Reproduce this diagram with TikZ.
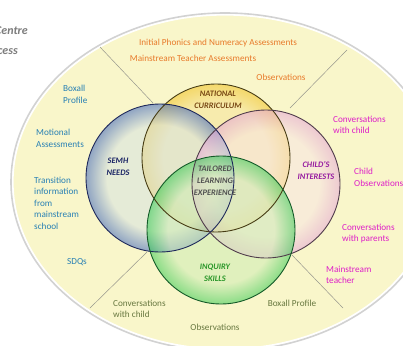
\documentclass[tikz,border=0pt]{standalone}
\usepackage{fontspec}
\setmainfont{Carlito}
\definecolor{bgfill}{RGB}{249,246,202}
\definecolor{divline}{RGB}{150,150,140}
\definecolor{txtorange}{RGB}{232,122,42}
\definecolor{txtteal}{RGB}{40,128,180}
\definecolor{txtmag}{RGB}{222,30,200}
\definecolor{txtolive}{RGB}{104,120,64}
\definecolor{txtgray}{RGB}{125,125,125}
% circle colours
\definecolor{blueIn}{RGB}{214,226,226}
\definecolor{blueOut}{RGB}{60,100,190}
\definecolor{blueLine}{RGB}{30,40,90}
\definecolor{yelIn}{RGB}{246,226,150}
\definecolor{yelOut}{RGB}{240,192,30}
\definecolor{yelLine}{RGB}{70,60,20}
\definecolor{pinkIn}{RGB}{248,228,228}
\definecolor{pinkOut}{RGB}{228,165,215}
\definecolor{pinkLine}{RGB}{80,60,75}
\definecolor{grnIn}{RGB}{205,236,180}
\definecolor{grnOut}{RGB}{50,200,80}
\definecolor{grnLine}{RGB}{20,90,40}
\pgfdeclareradialshading{rimblue}{\pgfpoint{0bp}{0bp}}{color(0bp)=(blueIn); color(18bp)=(blueIn); color(25bp)=(blueOut); color(50bp)=(blueOut)}
\pgfdeclareradialshading{rimyel}{\pgfpoint{0bp}{0bp}}{color(0bp)=(yelIn); color(18bp)=(yelIn); color(25bp)=(yelOut); color(50bp)=(yelOut)}
\pgfdeclareradialshading{rimpink}{\pgfpoint{0bp}{0bp}}{color(0bp)=(pinkIn); color(18bp)=(pinkIn); color(25bp)=(pinkOut); color(50bp)=(pinkOut)}
\pgfdeclareradialshading{rimgrn}{\pgfpoint{0bp}{0bp}}{color(0bp)=(grnIn); color(18bp)=(grnIn); color(25bp)=(grnOut); color(50bp)=(grnOut)}
\begin{document}
\begin{tikzpicture}[x=1pt,y=-1pt,
  outtxt/.style={font=\fontsize{9.2}{11.5}\selectfont, inner sep=0pt, align=left},
  circlabel/.style={font=\fontsize{8.4}{12}\bfseries\itshape\selectfont, inner sep=0pt, align=center},
  venn/.style={circle, minimum size=148pt, inner sep=0pt, line width=0.9pt, fill opacity=0.55},
  divider/.style={draw=divline, line width=0.5pt},
  cropped/.style={font=\fontsize{12}{14}\bfseries\itshape\selectfont, text=txtgray, anchor=east, inner sep=0pt}]
\useasboundingbox (0,0) rectangle (403,345);
\fill[white] (0,0) rectangle (403,345);
% big ellipse
\draw[gray!35, line width=1.6pt] (225,182) ellipse [x radius=214pt, y radius=169pt];
\fill[bgfill, draw=white, line width=1.2pt] (225,182) ellipse [x radius=212pt, y radius=167pt];
% cropped surrounding text
\node[cropped] (ctr) at (28,31) {Centre};
\node[cropped] (cess) at (18,52) {cess};
% divider lines
\coordinate (d1a) at (100,47); \coordinate (d1b) at (153,103);
\coordinate (d2a) at (347,50); \coordinate (d2b) at (290,108);
\coordinate (d3a) at (90,308); \coordinate (d3b) at (147,252);
\coordinate (d4a) at (343,308); \coordinate (d4b) at (292,255);
\draw[divider] (d1a) -- (d1b);
\draw[divider] (d2a) -- (d2b);
\draw[divider] (d3a) -- (d3b);
\draw[divider] (d4a) -- (d4b);
% venn circles
\node[venn, shading=rimyel] (nc) at (216,158) {};
\node[venn, shading=rimblue] (semh) at (160,178) {};
\node[venn, shading=rimpink] (ci) at (266,184) {};
\node[venn, shading=rimgrn] (iq) at (221,230) {};
\draw[yelLine, line width=0.9pt] (nc) circle (74pt);
\draw[blueLine, line width=0.9pt] (semh) circle (74pt);
\draw[pinkLine, line width=0.9pt] (ci) circle (74pt);
\draw[grnLine, line width=0.9pt] (iq) circle (74pt);
% circle labels
\node[circlabel, text={rgb,255:red,120;green,72;blue,20}] (lnc) at (218,100) {NATIONAL\\CURRICULUM};
\node[circlabel, text={rgb,255:red,26;green,36;blue,100}] (lsemh) at (118,167) {SEMH\\NEEDS};
\node[circlabel, text={rgb,255:red,150;green,26;blue,160}] (lci) at (316,171) {CHILD'S\\INTERESTS};
\node[circlabel, text={rgb,255:red,80;green,80;blue,80}] (ltle) at (215,181) {TAILORED\\LEARNING\\EXPERIENCE};
\node[circlabel, text={rgb,255:red,40;green,150;blue,40}] (liq) at (215,272.5) {INQUIRY\\SKILLS};
% top (orange)
\node[outtxt, text=txtorange] (t1) at (218,43) {Initial Phonics and Numeracy Assessments};
\node[outtxt, text=txtorange] (t2) at (193,58) {Mainstream Teacher Assessments};
\node[outtxt, text=txtorange] (t3) at (281,77) {Observations};
% left (teal)
\node[outtxt, text=txtteal, anchor=west] (l1) at (63,94.5) {Boxall\\Profile};
\node[outtxt, text=txtteal, anchor=west] (l2) at (36,138.5) {Motional\\Assessments};
\node[outtxt, text=txtteal, anchor=west] (l3) at (34,203) {Transition\\information\\from\\mainstream\\school};
\node[outtxt, text=txtteal] (l4) at (77,262) {SDQs};
% right (magenta)
\node[outtxt, text=txtmag, anchor=west] (r1) at (333,125) {Conversations\\with child};
\node[outtxt, text=txtmag, anchor=west] (r2) at (354,177.5) {Child\\Observations};
\node[outtxt, text=txtmag, anchor=west] (r3) at (342,233.5) {Conversations\\with parents};
\node[outtxt, text=txtmag, anchor=west] (r4) at (326,275) {Mainstream\\teacher};
% bottom (olive)
\node[outtxt, text=txtolive, anchor=west] (b1) at (113,309) {Conversations\\with child};
\node[outtxt, text=txtolive] (b2) at (215,327) {Observations};
\node[outtxt, text=txtolive] (b3) at (292,303) {Boxall Profile};
\end{tikzpicture}
\end{document}
